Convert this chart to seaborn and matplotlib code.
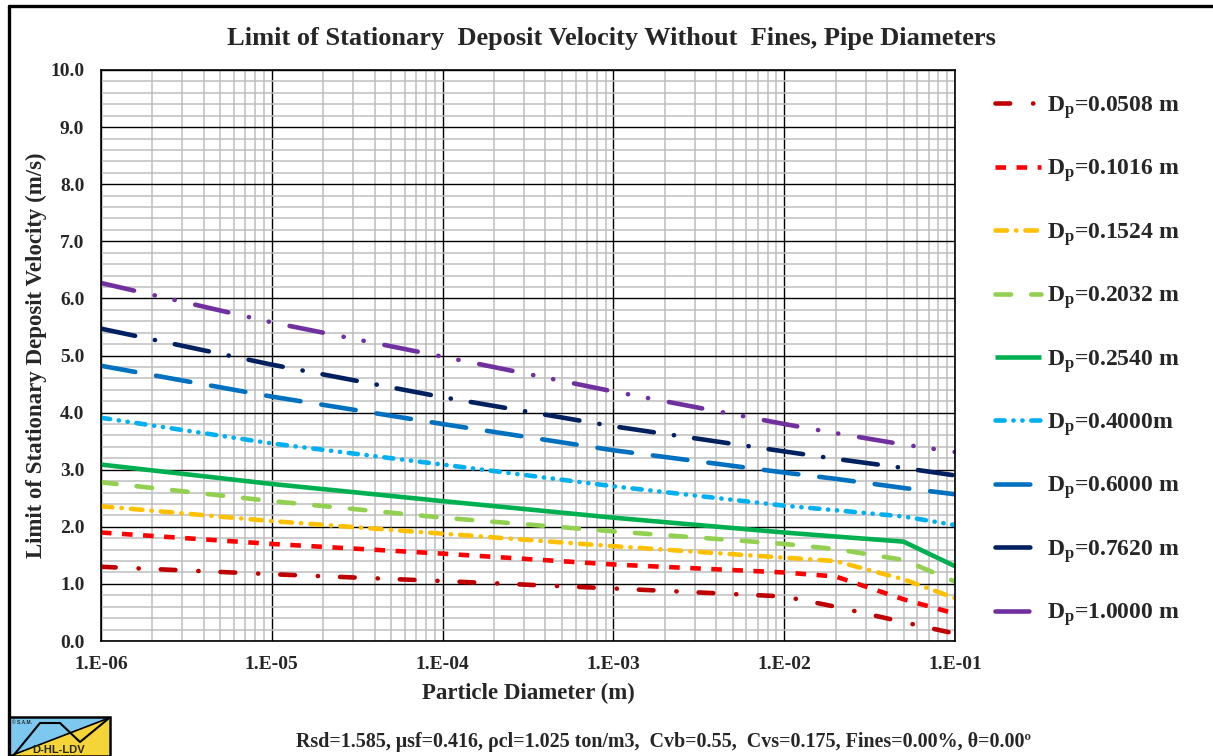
import matplotlib
matplotlib.use("Agg")
import matplotlib.pyplot as plt
import pandas as pd
import seaborn as sns
from matplotlib import ticker
from matplotlib.lines import Line2D
from matplotlib.patches import Polygon, Rectangle

# particle diameter (m) and limit of stationary deposit velocity (m/s) per pipe diameter
particle_d = [1e-6, 1e-5, 1e-4, 1e-3, 1e-2, 2e-2, 5e-2, 1e-1]
ldv_0508 = [1.30, 1.17, 1.05, 0.92, 0.78, 0.60, 0.33, 0.13]
ldv_1016 = [1.90, 1.70, 1.53, 1.34, 1.20, 1.13, 0.73, 0.48]
ldv_1524 = [2.36, 2.10, 1.88, 1.66, 1.46, 1.40, 1.08, 0.75]
ldv_2032 = [2.78, 2.45, 2.16, 1.92, 1.70, 1.61, 1.42, 1.04]
ldv_2540 = [3.09, 2.75, 2.45, 2.16, 1.90, 1.83, 1.74, 1.31]
ldv_4000 = [3.91, 3.46, 3.09, 2.71, 2.37, 2.29, 2.18, 2.03]
ldv_6000 = [4.82, 4.28, 3.80, 3.34, 2.95, 2.84, 2.68, 2.57]
ldv_7620 = [5.47, 4.84, 4.27, 3.76, 3.32, 3.19, 3.03, 2.90]
ldv_10000 = [6.27, 5.58, 4.98, 4.37, 3.80, 3.64, 3.44, 3.31]

pipe_labels = ['D$_\\mathrm{p}$=0.0508 m', 'D$_\\mathrm{p}$=0.1016 m', 'D$_\\mathrm{p}$=0.1524 m',
               'D$_\\mathrm{p}$=0.2032 m', 'D$_\\mathrm{p}$=0.2540 m', 'D$_\\mathrm{p}$=0.4000m',
               'D$_\\mathrm{p}$=0.6000 m', 'D$_\\mathrm{p}$=0.7620 m', 'D$_\\mathrm{p}$=1.0000 m']
series = [ldv_0508, ldv_1016, ldv_1524, ldv_2032, ldv_2540, ldv_4000, ldv_6000, ldv_7620, ldv_10000]

x_ticks = [1e-6, 1e-5, 1e-4, 1e-3, 1e-2, 1e-1]
x_tick_labels = ['1.E-06', '1.E-05', '1.E-04', '1.E-03', '1.E-02', '1.E-01']
y_ticks = [0, 1, 2, 3, 4, 5, 6, 7, 8, 9, 10]
y_tick_labels = ['0.0', '1.0', '2.0', '3.0', '4.0', '5.0', '6.0', '7.0', '8.0', '9.0', '10.0']

colors = ['#C00000', '#FF0000', '#FFC000', '#92D050', '#00B050',
          '#00B0F0', '#0070C0', '#002060', '#7030A0']
dash_styles = [(3.2, 5.0, 0.05, 4.8), (2.3, 2.3), (2.5, 2.0, 0.05, 2.0), (3.4, 4.4), '',
               (2.0, 1.9, 0.05, 1.9, 0.05, 1.9), (7.6, 4.6), (7.6, 4.4, 0.05, 4.4),
               (7.4, 4.6, 0.05, 4.4, 0.05, 4.6)]

rows = []
for lab, vals in zip(pipe_labels, series):
    for d, v in zip(particle_d, vals):
        rows.append({'d': d, 'v': v, 'pipe': lab})
df = pd.DataFrame(rows)

sns.set_style('white')
plt.rcParams['font.family'] = ['Liberation Serif', 'DejaVu Serif']
plt.rcParams['font.weight'] = 'bold'
plt.rcParams['mathtext.fontset'] = 'custom'
plt.rcParams['mathtext.rm'] = 'Liberation Serif:bold'
plt.rcParams['mathtext.it'] = 'Liberation Serif:italic:bold'
plt.rcParams['mathtext.bf'] = 'Liberation Serif:bold'

W, H = 1213, 756
fig = plt.figure(figsize=(W / 100, H / 100), dpi=100)
ax = fig.add_axes([101 / W, 1 - 641 / H, (955 - 101) / W, (641 - 70) / H])
ax.set_xscale('log')

sns.lineplot(data=df, x='d', y='v', hue='pipe', style='pipe', hue_order=pipe_labels,
             style_order=pipe_labels, palette=dict(zip(pipe_labels, colors)),
             dashes=dict(zip(pipe_labels, dash_styles)), lw=3.3, legend=False,
             estimator=None, sort=False, ax=ax)

for i, line in enumerate(ax.get_lines()):
    if i == 1:
        line.set_dash_capstyle('butt')
    else:
        line.set_dash_capstyle('round')
    line.set_solid_capstyle('butt')

ax.set_xlim(1e-6, 1e-1)
ax.set_ylim(0, 10)
ax.set_xticks(x_ticks, labels=x_tick_labels)
ax.xaxis.set_minor_locator(ticker.LogLocator(base=10, subs=[2, 3, 4, 5, 6, 7, 8, 9], numticks=20))
ax.xaxis.set_minor_formatter(ticker.NullFormatter())
ax.set_yticks(y_ticks, labels=y_tick_labels)
ax.yaxis.set_minor_locator(ticker.MultipleLocator(0.2))

ax.grid(which='minor', color='#BFBFBF', lw=1.1, zorder=0)
ax.grid(which='major', color='#000000', lw=1.0, zorder=0)
ax.set_axisbelow(True)
for s in ax.spines.values():
    s.set_color('#000000')
    s.set_linewidth(1.2)

ax.tick_params(axis='x', which='major', length=5, width=1, color='#000000', pad=6, labelsize=14)
ax.tick_params(axis='y', which='major', length=0, pad=12, labelsize=14)
ax.tick_params(which='minor', length=0)

ax.set_xlabel('Particle Diameter (m)', fontsize=16.5, fontweight='bold', labelpad=7)
ax.set_ylabel('Limit of Stationary Deposit Velocity (m/s)', fontsize=16.5, fontweight='bold', labelpad=2)

fig.text(611 / W, 1 - 38 / H, 'Limit of Stationary  Deposit Velocity Without  Fines, Pipe Diameters',
         ha='center', va='center', fontsize=19, fontweight='bold')

fig.legend(handles=ax.get_lines(), labels=pipe_labels, loc='upper left',
           bbox_to_anchor=(974 / W, 1 - 73 / H), frameon=False, fontsize=17,
           handlelength=1.95, handletextpad=0.25, labelspacing=1.55)

fig.text(663 / W, 1 - 742 / H,
         'Rsd=1.585, \u03bcsf=0.416, \u03c1cl=1.025 ton/m3,  Cvb=0.55,  Cvs=0.175, Fines=0.00%, \u03b8=0.00\u00ba',
         ha='center', va='center', fontsize=14.4, fontweight='bold')

# outer frame (left and top edges visible)
fig.add_artist(Line2D([9 / W, 9 / W], [0, 1 - 6 / H], color='#000000', lw=2.4, transform=fig.transFigure))
fig.add_artist(Line2D([9 / W, 1], [1 - 6 / H, 1 - 6 / H], color='#000000', lw=2.4, transform=fig.transFigure))

# logo in the lower left corner
def fp(x, y):
    return (x / W, 1 - y / H)

fig.add_artist(Polygon([fp(10, 718), fp(109, 718), fp(10, 756)], closed=True,
                       facecolor='#7CC8EE', edgecolor='none', transform=fig.transFigure))
fig.add_artist(Polygon([fp(109, 718), fp(109, 756), fp(10, 756)], closed=True,
                       facecolor='#F5D437', edgecolor='none', transform=fig.transFigure))
fig.add_artist(Line2D([10 / W, 109 / W], [1 - 756 / H, 1 - 718 / H], color='#000000', lw=1.2,
                      transform=fig.transFigure))
fig.add_artist(Line2D([x / W for x in (13, 40, 60, 80, 108)], [1 - y / H for y in (756, 723, 723, 742, 719)],
                      color='#000000', lw=1.5, transform=fig.transFigure))
fig.add_artist(Rectangle(fp(9, 756), 101 / W, 39 / H, facecolor='none', edgecolor='#000000', lw=1.8,
                         transform=fig.transFigure))
fig.text(59 / W, 1 - 750 / H, 'D-HL-LDV', ha='center', va='center', fontsize=8, fontweight='bold',
         family=['Liberation Sans', 'DejaVu Sans'])
fig.text(12 / W, 1 - 722 / H, '\u00a9 S.A.M.', ha='left', va='center', fontsize=3.5, fontweight='bold',
         family=['Liberation Sans', 'DejaVu Sans'])

fig.savefig('out.png', dpi=100)
